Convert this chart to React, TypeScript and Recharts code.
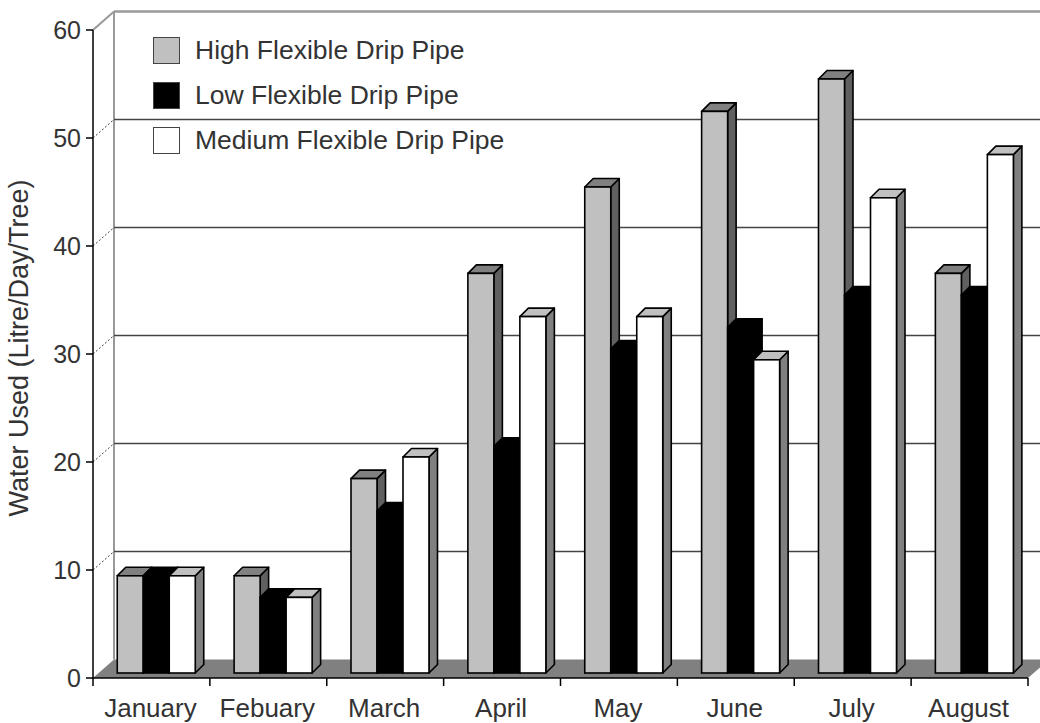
import { BarChart, Bar, XAxis, YAxis, CartesianGrid, Legend } from 'recharts'

const months = ['January', 'Febuary', 'March', 'April', 'May', 'June', 'July', 'August']
const highPipe = [9, 9, 18, 37, 45, 52, 55, 37]
const lowPipe = [9, 7, 15, 21, 30, 32, 35, 35]
const mediumPipe = [9, 7, 20, 33, 33, 29, 44, 48]
const yTicks = [0, 10, 20, 30, 40, 50, 60]

const data = months.map((month, i) => ({
  month,
  high: highPipe[i],
  low: lowPipe[i],
  medium: mediumPipe[i],
}))

// fake 3d: back wall offset and bar depth
const WALL_DX = 21
const WALL_DY = -18.5
const BAR_OX = 5.5
const BAR_OY = -5
const BAR_DX = 8.5
const BAR_DY = -8.5

const FONT = '"Liberation Sans", Arial, Helvetica, sans-serif'
const TEXT = '#333'
const X_TICK = 8
const X_MARGIN = 13

function box3d(front: string, top: string, side: string) {
  return (props: any) => {
    const { x, y, width: w, height: h } = props
    if (x == null || y == null || !w) return <g />
    const fx = x + BAR_OX
    const fy = y + BAR_OY
    const topPts = `${fx},${fy} ${fx + BAR_DX},${fy + BAR_DY} ${fx + w + BAR_DX},${fy + BAR_DY} ${fx + w},${fy}`
    const sidePts = `${fx + w},${fy} ${fx + w + BAR_DX},${fy + BAR_DY} ${fx + w + BAR_DX},${fy + h + BAR_DY} ${fx + w},${fy + h}`
    return (
      <g>
        <polygon points={sidePts} fill={side} stroke="#000" strokeWidth={1.6} strokeLinejoin="round" />
        <polygon points={topPts} fill={top} stroke="#000" strokeWidth={1.6} strokeLinejoin="round" />
        <rect x={fx} y={fy} width={w} height={h} fill={front} stroke="#000" strokeWidth={1.6} />
      </g>
    )
  }
}

// back wall lines, plus the floor and frame drawn once
function wallLine(props: any) {
  const { x1, x2, y1, index, x, y, width, height } = props
  const bottom = y + height
  const isFloor = Math.abs(y1 - bottom) < 1
  const isTop = Math.abs(y1 - y) < 1
  return (
    <g key={`wall-${index}`}>
      {index === 0 && (
        <g>
          <polygon
            points={`${x},${bottom} ${x + width},${bottom} ${x + width + WALL_DX},${bottom + WALL_DY} ${x + WALL_DX},${bottom + WALL_DY}`}
            fill="#808080"
          />
          <line x1={x + WALL_DX} y1={y + WALL_DY} x2={x + WALL_DX} y2={bottom + WALL_DY} stroke="#999" strokeWidth={2} />
          <line x1={x + WALL_DX} y1={y + WALL_DY} x2={x + width + WALL_DX + 20} y2={y + WALL_DY} stroke="#999" strokeWidth={2.5} />
          <line x1={x} y1={y} x2={x + WALL_DX} y2={y + WALL_DY} stroke="#999" strokeWidth={2} />
        </g>
      )}
      {!isFloor && !isTop && (
        <g>
          <line x1={x1 + WALL_DX} y1={y1 + WALL_DY} x2={x2 + WALL_DX + 20} y2={y1 + WALL_DY} stroke="#444" strokeWidth={1.6} />
          <line x1={x1} y1={y1} x2={x1 + WALL_DX} y2={y1 + WALL_DY} stroke="#444" strokeWidth={1} strokeDasharray="2 2" />
        </g>
      )}
    </g>
  )
}

function MonthTick(props: any) {
  const { x, y, payload, index } = props
  const half = payload.offset ?? (1040 - 93 - 12) / months.length / 2
  const axisY = y - X_TICK - X_MARGIN
  return (
    <g>
      <line x1={x - half} y1={axisY} x2={x - half} y2={axisY + X_TICK} stroke="#000" strokeWidth={1.5} />
      {index === months.length - 1 && (
        <line x1={x + half} y1={axisY} x2={x + half} y2={axisY + X_TICK} stroke="#000" strokeWidth={1.5} />
      )}
      <text x={x - 1} y={y} dy="0.69em" textAnchor="middle" fill={TEXT} fontSize={26} fontFamily={FONT}>
        {payload.value}
      </text>
    </g>
  )
}

function PipeLegend({ payload }: any) {
  return (
    <div style={{ fontFamily: FONT, fontSize: 26.5, color: TEXT }}>
      {(payload || []).map((p: any) => (
        <div key={p.value} style={{ display: 'flex', alignItems: 'center', height: 45, whiteSpace: 'nowrap' }}>
          <span
            style={{
              display: 'inline-block',
              width: 27,
              height: 27,
              boxSizing: 'border-box',
              border: '1.5px solid #444',
              background: p.color,
              marginRight: 15,
            }}
          />
          {p.value}
        </div>
      ))}
    </div>
  )
}

export default function App() {
  return (
    <div style={{ position: 'absolute', left: 0, top: 0, background: '#fff' }}>
      <BarChart
        width={1040}
        height={723}
        data={data}
        margin={{ top: 30, right: 12, bottom: 0, left: 0 }}
        barCategoryGap={18.75}
        barGap={0}
      >
        <CartesianGrid vertical={false} horizontal={wallLine} />
        <XAxis
          dataKey="month"
          height={45}
          interval={0}
          tickLine={false}
          tickSize={X_TICK}
          tickMargin={X_MARGIN}
          axisLine={{ stroke: '#000', strokeWidth: 1.5 }}
          tick={<MonthTick />}
        />
        <YAxis
          domain={[0, 60]}
          ticks={yTicks}
          interval={0}
          width={93}
          tickSize={7}
          tickMargin={5}
          axisLine={{ stroke: '#000', strokeWidth: 1.5 }}
          tickLine={{ stroke: '#000', strokeWidth: 1.5 }}
          tick={{ fill: TEXT, fontSize: 25, fontFamily: FONT }}
          label={{
            content: (p: any) => {
              const vb = p.viewBox || { x: 0, y: 30, height: 648 }
              const cx = vb.x + 28
              const cy = vb.y + vb.height / 2 - 6
              return (
                <text
                  x={cx}
                  y={cy}
                  transform={`rotate(-90 ${cx} ${cy})`}
                  textAnchor="middle"
                  fill={TEXT}
                  fontSize={27}
                  fontFamily={FONT}
                >
                  Water Used (Litre/Day/Tree)
                </text>
              )
            },
          }}
        />
        <Legend
          layout="vertical"
          align="center"
          verticalAlign="middle"
          content={<PipeLegend />}
          wrapperStyle={{ left: 153, top: 27.5, width: 'auto', height: 'auto' }}
        />
        <Bar dataKey="high" name="High Flexible Drip Pipe" fill="#c0c0c0" isAnimationActive={false} shape={box3d('#c0c0c0', '#808080', '#606060')} />
        <Bar dataKey="low" name="Low Flexible Drip Pipe" fill="#000000" isAnimationActive={false} shape={box3d('#000', '#000', '#000')} />
        <Bar dataKey="medium" name="Medium Flexible Drip Pipe" fill="#ffffff" isAnimationActive={false} shape={box3d('#fff', '#c0c0c0', '#808080')} />
      </BarChart>
    </div>
  )
}
